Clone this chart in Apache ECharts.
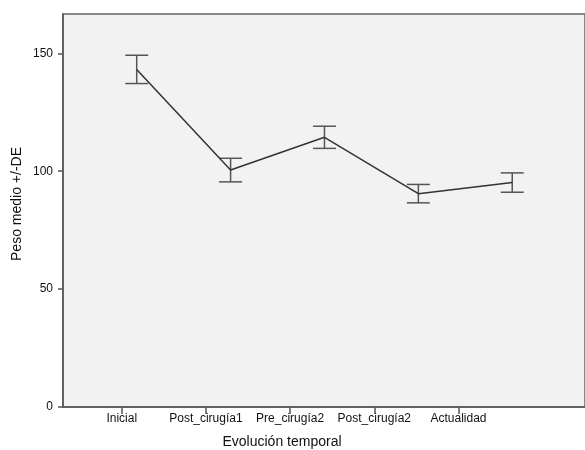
<!DOCTYPE html>
<html>
<head>
<meta charset="utf-8">
<script src="https://cdn.jsdelivr.net/npm/echarts@6/dist/echarts.min.js"></script>
<style>
html,body{margin:0;padding:0;background:#fff;}
#chart{width:585px;height:450px;}
</style>
</head>
<body>
<div id="chart"></div>
<script>
const categories = ['Inicial', 'Post_cirugía1', 'Pre_cirugía2', 'Post_cirugía2', 'Actualidad'];
const means = [143.2, 100.5, 114.4, 90.5, 95.2];
const sds = [6.0, 5.0, 4.7, 3.9, 4.1];
const yTicks = [0, 50, 100, 150];
const yTitle = 'Peso medio +/-DE';
const xTitle = 'Evolución temporal';

const FONT = '"Liberation Sans", Arial, sans-serif';
const chart = echarts.init(document.getElementById('chart'), null, {renderer: 'canvas'});

const lineData = categories.map((c, i) => [i, means[i]]);
const errData = categories.map((c, i) => [i, means[i] - sds[i], means[i] + sds[i]]);
const tickIdx = categories.map((c, i) => i);

const option = {
  backgroundColor: '#ffffff',
  animation: false,
  grid: {
    left: 63, right: -2, top: 14, bottom: 43,
    show: true, backgroundColor: '#f2f2f2', borderColor: '#666', borderWidth: 1.5
  },
  xAxis: [
    {
      type: 'value', show: false, min: -0.785, max: 4.775
    },
    {
      type: 'value', min: -0.698, max: 5.503, position: 'bottom',
      axisLine: {show: true, onZero: false, lineStyle: {color: '#555', width: 1.5}},
      axisTick: {show: true, length: 7, inside: false, customValues: tickIdx, lineStyle: {color: '#555', width: 1.5}},
      axisLabel: {
        show: true, customValues: tickIdx, margin: 6,
        fontFamily: FONT, fontSize: 12, color: '#111',
        formatter: v => categories[Math.round(v)] || ''
      },
      splitLine: {show: false}
    }
  ],
  yAxis: {
    type: 'value', min: 0, max: 166.7, interval: 50,
    axisLine: {show: true, onZero: false, lineStyle: {color: '#555', width: 1.5}},
    axisTick: {show: true, length: 5, customValues: yTicks, lineStyle: {color: '#555', width: 1.5}},
    axisLabel: {
      margin: 10, fontFamily: FONT, fontSize: 12, color: '#111',
      customValues: yTicks,
      formatter: v => String(v)
    },
    splitLine: {show: false}
  },
  graphic: [
    {
      type: 'text', x: 282, y: 442,
      style: {text: xTitle, font: '14px ' + FONT, fill: '#111', textAlign: 'center', textVerticalAlign: 'middle'}
    },
    {
      type: 'text', x: 17, y: 204, rotation: Math.PI / 2,
      style: {text: yTitle, font: '14px ' + FONT, fill: '#111', textAlign: 'center', textVerticalAlign: 'middle'}
    }
  ],
  series: [
    {
      type: 'custom', xAxisIndex: 0, yAxisIndex: 0,
      data: errData,
      renderItem: function (params, api) {
        const x = api.value(0);
        const lo = api.coord([x, api.value(1)]);
        const hi = api.coord([x, api.value(2)]);
        const hw = 11.5;
        const st = {stroke: '#555', lineWidth: 1.5};
        return {
          type: 'group',
          children: [
            {type: 'line', shape: {x1: lo[0], y1: lo[1], x2: hi[0], y2: hi[1]}, style: st},
            {type: 'line', shape: {x1: hi[0] - hw, y1: hi[1], x2: hi[0] + hw, y2: hi[1]}, style: st},
            {type: 'line', shape: {x1: lo[0] - hw, y1: lo[1], x2: lo[0] + hw, y2: lo[1]}, style: st}
          ]
        };
      },
      z: 2
    },
    {
      type: 'line', xAxisIndex: 0, yAxisIndex: 0,
      data: lineData,
      showSymbol: false, symbol: 'none',
      lineStyle: {color: '#333', width: 1.5},
      z: 3
    }
  ]
};
chart.setOption(option);
</script>
</body>
</html>
